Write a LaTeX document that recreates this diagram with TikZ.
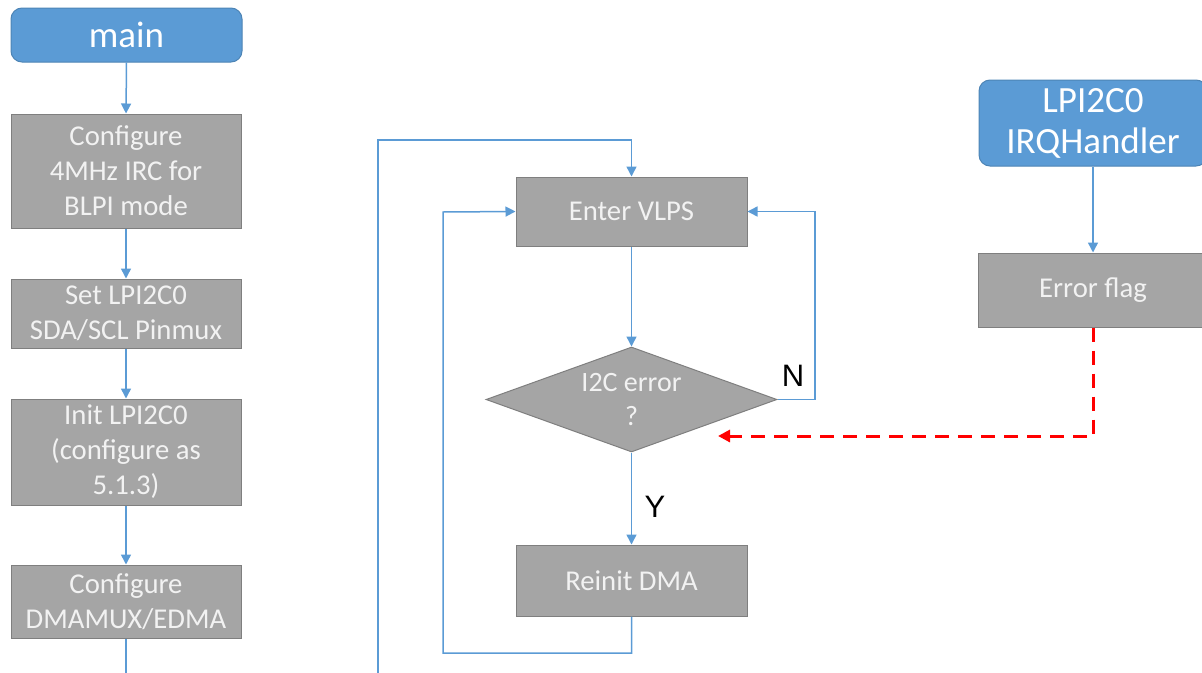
\documentclass[tikz,border=0pt]{standalone}
\usepackage{fontspec}
\setmainfont{Carlito}
\newfontfamily\labfont{Liberation Sans}
\usetikzlibrary{arrows.meta,shapes.geometric}
\definecolor{bluefill}{HTML}{5B9BD5}
\definecolor{blueline}{HTML}{5B9BD5}
\definecolor{grayfill}{HTML}{A5A5A5}
\definecolor{grayline}{HTML}{7F7F7F}
\definecolor{boxtext}{HTML}{F2F2F2}
\definecolor{errred}{HTML}{FF0000}
\tikzset{
  graybox/.style={draw=grayline, line width=1pt, fill=grayfill, text=boxtext,
    align=center, inner sep=0pt, minimum width=230pt,
    font=\fontsize{28.7}{35}\selectfont},
  bluebox/.style={draw=bluefill!85!black, line width=1pt, fill=bluefill, text=white,
    rounded corners=11pt, align=center, inner sep=0pt,
    font=\fontsize{37}{41}\selectfont},
  decision/.style={diamond, draw=grayline, line width=1pt, fill=grayfill, text=boxtext,
    inner sep=0pt, minimum width=291pt, minimum height=105pt, aspect=2.77,
    align=center, font=\fontsize{28}{34}\selectfont},
  flow/.style={draw=blueline, line width=1.5pt, -{Triangle[length=10pt,width=10pt]}},
  flowline/.style={draw=blueline, line width=1.5pt},
  errflow/.style={draw=errred, line width=3pt, dash pattern=on 14pt off 9pt,
    -{Triangle[length=12pt,width=12pt]}},
  yn/.style={font=\labfont\fontsize{31}{33}\selectfont, text=black, inner sep=0pt}
}
\begin{document}
\begin{tikzpicture}[x=1pt,y=-1pt]
\useasboundingbox (0,0) rectangle (1202,672);
\clip (0,0) rectangle (1202,672);
% left column
\node[bluebox, minimum width=231pt, minimum height=54pt] (main) at (126.5,35) {main};
\node[graybox, minimum height=114pt] (b1) at (126,171) {Configure\\4MHz IRC for\\BLPI mode};
\node[graybox, minimum height=69pt] (b2) at (126,313.5) {Set LPI2C0\\SDA/SCL Pinmux};
\node[graybox, minimum height=106pt] (b3) at (126,452) {Init LPI2C0\\(configure as\\5.1.3)};
\node[graybox, minimum height=73pt] (b4) at (126,601.5) {Configure\\DMAMUX/EDMA};
\coordinate (b4end) at (126,680);
\draw[flow] (main.south) -- (b1.north);
\draw[flow] (b1.south) -- (b2.north);
\draw[flow] (b2.south) -- (b3.north);
\draw[flow] (b3.south) -- (b4.north);
\draw[flowline] (b4.south) -- (b4end);
% middle loop
\node[graybox, minimum width=231pt, minimum height=69pt] (enter) at (631.5,211.5) {Enter VLPS};
\node[decision] (dia) at (631.5,399.5) {I2C error\\?};
\node[graybox, minimum width=231pt, minimum height=71pt] (reinit) at (631.5,580.5) {Reinit DMA};
\coordinate (outer) at (378,680);
\draw[flow] (outer) |- (631.5,140) -- (enter.north);
\draw[flow] (enter.south) -- (dia.north);
\draw[flow] (dia.south) -- (reinit.north);
\draw[flow] (reinit.south) -- (631.5,653) -| (443,212) -- (enter.west);
\draw[flow] (dia.east) -- (815,399.5) |- (enter.east);
\node[yn] (nlab) at (793,376) {N};
\node[yn] (ylab) at (655,507) {Y};
% right column
\node[bluebox, minimum width=228pt, minimum height=86pt] (irq) at (1093,123) {LPI2C0\\IRQHandler};
\node[graybox, minimum width=230pt, minimum height=74pt] (err) at (1093,290) {Error flag};
\draw[flow] (irq.south) -- (err.north);
\coordinate (errtip) at (718,436);
\draw[errflow] (err.south) |- (errtip);
\end{tikzpicture}
\end{document}
